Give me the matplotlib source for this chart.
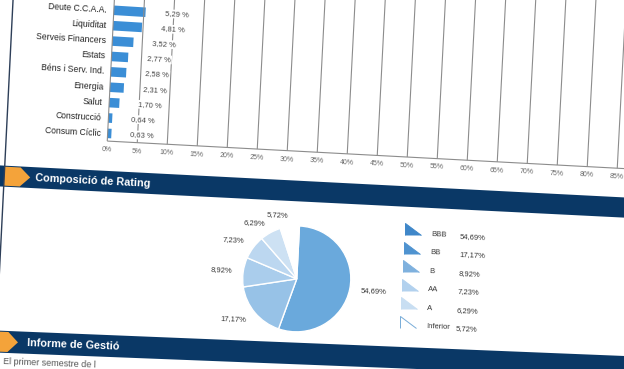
import numpy as np
import matplotlib
matplotlib.use("Agg")
import matplotlib.pyplot as plt
import matplotlib.transforms as mtransforms
from matplotlib.patches import Polygon, Rectangle
from matplotlib.text import Text

# sector breakdown (top chart)
sectors = ["Deute C.C.A.A.", "Liquiditat", "Serveis Financers", "Estats",
           "Béns i Serv. Ind.", "Energia", "Salut", "Construcció", "Consum Cíclic"]
sector_pct = [5.29, 4.81, 3.52, 2.77, 2.58, 2.31, 1.70, 0.64, 0.63]
x_ticks = list(range(0, 90, 5))

# rating breakdown (pie)
ratings = ["BBB", "BB", "B", "AA", "A", "Inferior"]
rating_pct = [54.69, 17.17, 8.92, 7.23, 6.29, 5.72]
pie_colors = ["#6aa9dc", "#97c2e7", "#aacdec", "#bcd7f0", "#cde1f3", "#ffffff"]
legend_colors = ["#3f87c9", "#4f93d0", "#7fb1de", "#b2d1ee", "#c8def2", "#ffffff"]

NAVY = "#0a3866"
ORANGE = "#f4a33a"
BAR = "#3b8ed6"
SANS = ["Liberation Sans", "DejaVu Sans"]

W, H = 624, 369
# the scanned page is tilted a bit and not quite flat
SHEAR = 0.05
S0, S1 = 0.062, -6.5e-5


def slope(y):
    return S0 + S1 * y


class PageWarp(mtransforms.Transform):
    input_dims = 2
    output_dims = 2

    def transform_non_affine(self, values):
        v = np.asarray(values, dtype=float)
        x = v[:, 0]
        y = H - v[:, 1]
        X = x - SHEAR * y
        Y = y + slope(y) * x
        return np.column_stack([X, H - Y])


warp = PageWarp()


def pct(v):
    return f"{v:.2f}".replace(".", ",")


fig = plt.figure(figsize=(W / 100, H / 100), dpi=100)
fig.patch.set_facecolor("white")


def px_axes(left, top, width, height):
    return fig.add_axes([left / W, (H - top - height) / H, width / W, height / H])


# page decoration: frame line, section bands
bg = px_axes(0, 0, W, H)
bg.set_xlim(0, W)
bg.set_ylim(H, 0)
bg.plot([13, 13], [-30, 331], color="#2d3e58", lw=1)
for top, bottom, left, tip, title in [(165, 186, 13, 39, "Composició de Rating"),
                                       (330, 352, -5, 35, "Informe de Gestió")]:
    bg.add_patch(Rectangle((-20, top), 760, bottom - top, color=NAVY, lw=0))
    mid = (top + bottom) / 2
    bg.add_patch(Polygon([(left, top + 1), (tip - 10, top + 1), (tip, mid),
                          (tip - 10, bottom - 1), (left, bottom - 1)],
                         closed=True, color=ORANGE, lw=0))
    bg.text(44, mid, title, color="white", fontsize=7.8, fontweight="bold",
            family=SANS, ha="left", va="center")
bg.text(21, 360.5, "El primer semestre de l", color="#555555", fontsize=6.5,
        family=SANS, ha="left", va="center")

# bar chart
ax = px_axes(114, -10.7, 540, 145.7)
ax.set_xlim(0, 90)
ax.set_ylim(8.5, -0.9)
rows = np.arange(len(sectors))
ax.vlines(x_ticks, -4.5, 8.5, color="#8c8c8c", lw=0.8)
ax.hlines(8.5, 0, 90, color="#8c8c8c", lw=0.8)
ax.barh(rows, sector_pct, height=0.62, color=BAR)
for i, (name, v) in enumerate(zip(sectors, sector_pct)):
    ax.text(-1.1, i, name, ha="right", va="center", fontsize=6.2,
            family=SANS, color="#222222")
    ax.text(v + 3.2, i, pct(v) + " %", ha="left", va="center", fontsize=5.5,
            family=SANS, color="#444444",
            bbox=dict(facecolor="white", edgecolor="none", pad=0.6))
for t in x_ticks:
    ax.text(t, 9.08, f"{t}%", ha="center", va="center", fontsize=5,
            family=SANS, color="#666666")

# pie
axp = px_axes(310 - 67.5, 265 - 67.5, 135, 135)
axp.pie(rating_pct, colors=pie_colors, startangle=90, counterclock=False,
        labels=[pct(v) + "%" for v in rating_pct], labeldistance=1.2,
        wedgeprops=dict(edgecolor="white", linewidth=1),
        textprops=dict(fontsize=5.5, family=SANS, color="#333333"))
axp.set_xlim(-1.25, 1.25)
axp.set_ylim(-1.25, 1.25)

# legend
axl = px_axes(423, 199.5, 100, 114)
axl.set_xlim(0, 100)
axl.set_ylim(5.5, -0.5)
tri = [(-1, -0.75), (-1, 0.75), (1, -0.75)]
for r, (name, v, c) in enumerate(zip(ratings, rating_pct, legend_colors)):
    edge = "#78acd8" if c == "#ffffff" else c
    axl.plot(0, r, marker=tri, ms=11.5, mfc=c, mec=edge, mew=0.7, ls="none")
    axl.text(19, r + 0.22, name, ha="left", va="center", fontsize=5.5,
             family=SANS, color="#333333")
    axl.text(48, r + 0.25, pct(v) + "%", ha="left", va="center", fontsize=5.5,
             family=SANS, color="#333333")


def warp_axes(a):
    a.axis("off")
    for art in [*a.patches, *a.lines, *a.collections, *a.texts]:
        if isinstance(art, Text):
            _, yd = a.transData.transform(art.get_position())
            art.set_rotation(-np.degrees(np.arctan(slope(H - yd))))
            art.set_rotation_mode("anchor")
        art.set_transform(a.transData + warp)
        art.set_clip_on(False)


for a in (bg, ax, axp, axl):
    warp_axes(a)

fig.savefig("out.png", dpi=100)
